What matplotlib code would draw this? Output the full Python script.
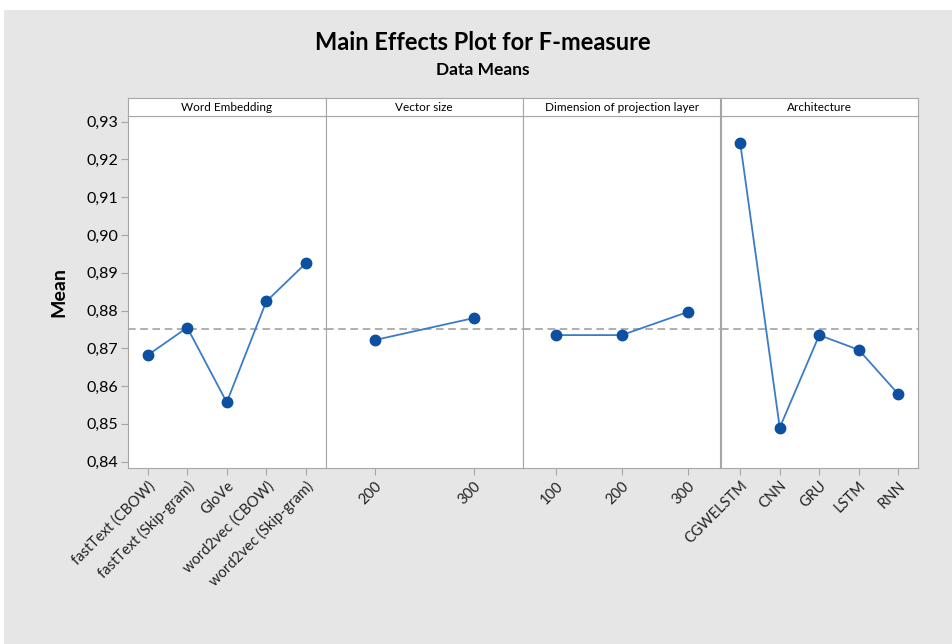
import matplotlib
matplotlib.use("Agg")
import matplotlib.pyplot as plt
from matplotlib.ticker import FuncFormatter
from matplotlib.patches import Rectangle

plt.rcParams['font.family'] = ['Lato', 'DejaVu Sans']

# data
factors = ["Word Embedding", "Vector size", "Dimension of projection layer", "Architecture"]
emb_levels = ["fastText (CBOW)", "fastText (Skip-gram)", "GloVe", "word2vec (CBOW)", "word2vec (Skip-gram)"]
emb_means = [0.8682, 0.8755, 0.8557, 0.8824, 0.8925]
vec_levels = ["200", "300"]
vec_means = [0.8722, 0.8780]
dim_levels = ["100", "200", "300"]
dim_means = [0.8735, 0.8735, 0.8796]
arch_levels = ["CGWELSTM", "CNN", "GRU", "LSTM", "RNN"]
arch_means = [0.9243, 0.8490, 0.8735, 0.8696, 0.8579]
grand_mean = 0.8750

yticks = [0.84, 0.85, 0.86, 0.87, 0.88, 0.89, 0.90, 0.91, 0.92, 0.93]

levels = [emb_levels, vec_levels, dim_levels, arch_levels]
means = [emb_means, vec_means, dim_means, arch_means]

fig = plt.figure(figsize=(9.53, 6.44), dpi=100)
fig.patch.set_facecolor('white')
# gray backdrop like the reference
fig.patches.append(Rectangle((4 / 953, 0), 1, 1 - 10 / 644, transform=fig.transFigure,
                             facecolor='#e6e6e6', edgecolor='none', zorder=-10))

left, right = 128 / 953, 918 / 953
bottom, top = 1 - 467.7 / 644, 1 - 116 / 644
strip_h = 18 / 644
w = (right - left) / 4
border = '#a6a6a6'

for i in range(4):
    ax = fig.add_axes([left + i * w, bottom, w, top - bottom])
    n = len(levels[i])
    x = list(range(n))
    ax.axhline(grand_mean, color='#9a9a9a', ls=(0, (5, 3)), lw=1.1, zorder=1)
    ax.plot(x, means[i], color='#3b7cc8', lw=1.3, zorder=2)
    ax.plot(x, means[i], 'o', color='#0d4fa0', ms=7.5, zorder=3)
    ax.set_xlim(-0.5, n - 0.5)
    ax.set_ylim(0.8384, 0.9315)
    ax.set_xticks(x)
    ax.set_xticklabels(levels[i], rotation=45, ha='right', va='top',
                       rotation_mode='anchor', fontsize=10.5, color='#222222')
    ax.tick_params(axis='x', length=5, color=border, pad=3)
    for s in ax.spines.values():
        s.set_color(border)
    if i == 0:
        ax.set_yticks(yticks)
        ax.yaxis.set_major_formatter(FuncFormatter(lambda v, p: ('%.2f' % v).replace('.', ',')))
        ax.tick_params(axis='y', length=5, color=border, labelsize=11.5, pad=2)
        ax.set_ylabel("Mean", fontsize=14, fontweight='bold', labelpad=14)
    else:
        ax.set_yticks([])
    # strip header
    sax = fig.add_axes([left + i * w, top, w, strip_h])
    sax.set_xticks([])
    sax.set_yticks([])
    for s in sax.spines.values():
        s.set_color(border)
    sax.text(0.5, 0.45, factors[i], ha='center', va='center', fontsize=8.5,
             transform=sax.transAxes)

fig.text(483 / 953, 1 - 43 / 644, "Main Effects Plot for F-measure", ha='center',
         va='center', fontsize=17, fontweight='bold')
fig.text(483 / 953, 1 - 70 / 644, "Data Means", ha='center', va='center',
         fontsize=12.5, fontweight='bold')

fig.savefig("out.png", dpi=100)
